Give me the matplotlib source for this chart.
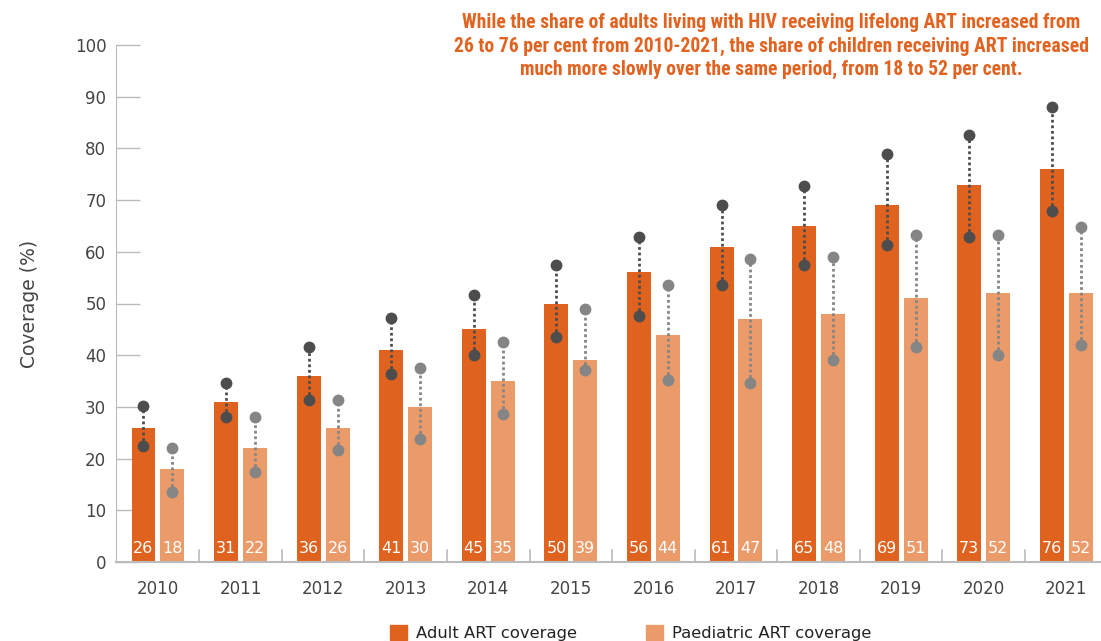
import matplotlib
matplotlib.use("Agg")
import matplotlib.pyplot as plt
from matplotlib.patches import Patch
import numpy as np

years = ["2010", "2011", "2012", "2013", "2014", "2015", "2016", "2017", "2018", "2019", "2020", "2021"]
adult = [26, 31, 36, 41, 45, 50, 56, 61, 65, 69, 73, 76]
adult_low = [22.5, 28.0, 31.3, 36.4, 40.0, 43.5, 47.5, 53.5, 57.4, 61.3, 62.8, 67.9]
adult_high = [30.2, 34.6, 41.5, 47.1, 51.6, 57.4, 62.9, 69.1, 72.8, 79.0, 82.6, 88.1]
paed = [18, 22, 26, 30, 35, 39, 44, 47, 48, 51, 52, 52]
paed_low = [13.6, 17.5, 21.6, 23.7, 28.6, 37.1, 35.2, 34.6, 39.0, 41.5, 40.1, 42.0]
paed_high = [22.0, 28.0, 31.4, 37.6, 42.5, 48.9, 53.6, 58.6, 58.9, 63.2, 63.2, 64.8]
yticks = list(range(0, 101, 10))
title = ("While the share of adults living with HIV receiving lifelong ART increased from\n"
         "26 to 76 per cent from 2010-2021, the share of children receiving ART increased\n"
         "much more slowly over the same period, from 18 to 52 per cent.")

c_adult = "#DF621F"
c_paed = "#EB9A69"
c_adult_err = "#4D4D4D"
c_paed_err = "#858585"
txt = "#444444"
axc = "#BBBBBB"

fig = plt.figure(figsize=(11.01, 6.41), dpi=100)
ax = fig.add_axes([116/1101, 1-562/641, 1-116/1101, (562-45)/641])

x = np.arange(len(years))
w = 0.29
off = 0.175
ax.bar(x - off, adult, w, color=c_adult, zorder=2)
ax.bar(x + off, paed, w, color=c_paed, zorder=2)

for i in range(len(years)):
    ax.plot([x[i]-off]*2, [adult_low[i], adult_high[i]], linestyle=(0, (1, 1)), lw=2,
            color=c_adult_err, marker="o", ms=7.5, zorder=3)
    ax.plot([x[i]+off]*2, [paed_low[i], paed_high[i]], linestyle=(0, (1, 1)), lw=2,
            color=c_paed_err, marker="o", ms=7.5, zorder=3)
    ax.text(x[i]-off, 2.7, str(adult[i]), color="white", ha="center", va="center", fontsize=11.5, zorder=4)
    ax.text(x[i]+off, 2.7, str(paed[i]), color="white", ha="center", va="center", fontsize=11.5, zorder=4)

ax.set_xlim(-0.508, 11.42)
ax.set_ylim(0, 100)
ax.set_yticks(yticks)
ax.set_yticklabels([str(t) for t in yticks], color=txt, fontsize=12)
ax.tick_params(axis="y", direction="in", length=17.5, width=1, color=axc, pad=7)

ax.set_xticks(x)
ax.set_xticklabels(years, color=txt, fontsize=12)
ax.tick_params(axis="x", length=0, pad=13)
for b in np.arange(0.5, len(years)-0.5, 1.0):
    ax.plot([b, b], [0, 2.4], color=axc, lw=1.2, clip_on=False, zorder=1)

for s in ["top", "right"]:
    ax.spines[s].set_visible(False)
ax.spines["left"].set_color(axc)
ax.spines["bottom"].set_color(axc)
ax.spines["bottom"].set_linewidth(1.5)

ax.set_ylabel("Coverage (%)", color=txt, fontsize=13.5, labelpad=26)

t = fig.text(771/1101, 1-46/641, title, ha="center", va="center", color="#E2621F",
             fontsize=12, fontweight="bold", fontstretch="condensed",
             family=["Roboto Condensed", "DejaVu Sans"], linespacing=1.3)
fig.canvas.draw()
r = fig.canvas.get_renderer()
wpx = t.get_window_extent(r).width
t.set_fontsize(12 * 635 / wpx)
fig.canvas.draw()
hpx = t.get_window_extent(r).height
t.set_linespacing(1.3 * 64 / hpx if hpx < 64 else 1.3)

handles = [Patch(color=c_adult, label="Adult ART coverage"),
           Patch(color=c_paed, label="Paediatric ART coverage")]
fig.legend(handles=handles, loc="center", bbox_to_anchor=(631/1101, 1-633/641), ncol=2,
           frameon=False, fontsize=11.8, handlelength=1.0, handleheight=1.0,
           columnspacing=4.2, handletextpad=0.6, labelcolor="#222222")

fig.savefig("out.png", dpi=100)
